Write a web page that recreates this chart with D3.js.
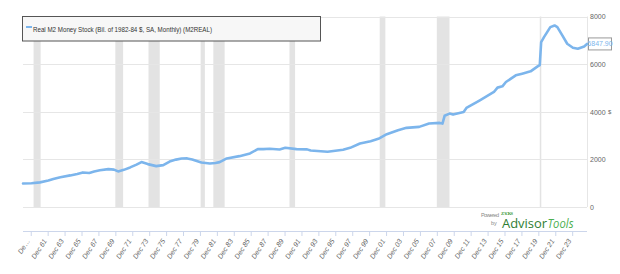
<!DOCTYPE html>
<html><head><meta charset="utf-8">
<script src="https://cdn.jsdelivr.net/npm/d3@7/dist/d3.min.js"></script>
<style>
html,body{margin:0;padding:0;background:#fff;}
svg{display:block;font-family:"Liberation Sans Narrow","Arial Narrow","Liberation Sans",sans-serif;}
</style></head>
<body><svg id="chart" width="620" height="274"></svg>
<script>
const seriesName = "Real M2 Money Stock (Bil. of 1982-84 $, SA, Monthly) (M2REAL)";
const dates = ["1959-01","1960-01","1961-01","1962-01","1962-08","1963-06","1964-08","1965-06","1966-02","1966-11","1967-06","1968-02","1969-02","1969-10","1970-04","1970-12","1971-09","1972-06","1973-01","1973-10","1974-10","1975-08","1976-05","1977-02","1977-10","1978-06","1979-01","1980-02","1981-02","1981-10","1982-04","1983-02","1984-08","1985-11","1986-10","1987-06","1988-03","1989-05","1990-01","1991-05","1992-08","1993-01","1995-01","1996-11","1997-09","1998-11","2000-02","2001-01","2002-01","2003-05","2004-05","2005-11","2007-01","2008-04","2008-08","2008-11","2009-06","2009-11","2011-02","2011-06","2013-01","2014-09","2015-02","2015-09","2016-02","2017-04","2018-01","2019-01","2019-11","2020-02","2020-04","2020-08","2021-05","2021-11","2022-03","2022-10","2023-05","2024-01","2024-08","2025-05","2025-09"];
const values = [990,1000,1035,1110,1173,1250,1327,1390,1452,1430,1490,1540,1592,1570,1494,1560,1662,1780,1885,1801,1717,1760,1910,1990,2039,2040,1998,1872,1829,1850,1885,2039,2136,2248,2429,2430,2443,2415,2485,2429,2420,2370,2318,2402,2485,2667,2764,2862,3058,3225,3323,3365,3504,3532,3504,3830,3923,3881,3993,4160,4482,4831,5013,5068,5250,5529,5599,5696,5906,5960,6925,7134,7553,7623,7553,7204,6856,6689,6647,6743,6848];
const lastValueLabel = "6847.90";
const recessionStarts = ["1960-04","1969-12","1973-11","1980-01","1981-07","1990-07","2001-03","2007-12","2020-02"];
const recessionEnds   = ["1961-02","1970-11","1975-03","1980-07","1982-11","1991-03","2001-11","2009-06","2020-04"];
const yTicks = [0,2000,4000,6000,8000];
const xTickYears = d3.range(1959, 2024, 2);
const yAxisTitle = "$";

const parse = d3.timeParse("%Y-%m");
const data = dates.map((d,i)=>({date:parse(d), value:values[i]}));

const svg = d3.select("#chart");
const L = 23, R = 587, T = 16.5, B = 207;
const x = d3.scaleTime().domain([parse("1959-01"), parse("2025-09")]).range([L, R]);
const y = d3.scaleLinear().domain([0, 8000]).range([B, T]);

// recession bands
svg.append("g").selectAll("rect").data(recessionStarts).join("rect")
  .attr("x", (d)=>x(parse(d)))
  .attr("width", (d,i)=>Math.max(1.5, x(parse(recessionEnds[i])) - x(parse(d))))
  .attr("y", T).attr("height", B - T)
  .attr("fill", "#e3e3e3");

// gridlines
svg.append("g").selectAll("line").data(yTicks).join("line")
  .attr("x1", L).attr("x2", R)
  .attr("y1", d=>Math.round(y(d))+0.5).attr("y2", d=>Math.round(y(d))+0.5)
  .attr("stroke", "#e6e6e6").attr("stroke-width", 1);
svg.append("line").attr("x1", R+0.5).attr("x2", R+0.5).attr("y1", T).attr("y2", B)
  .attr("stroke", "#e6e6e6");

// right y-axis labels
const yAxis = d3.axisRight(y).tickValues(yTicks).tickSize(0).tickPadding(3).tickFormat(d3.format("d"));
const gy = svg.append("g").attr("transform", `translate(${R},0)`).call(yAxis);
gy.select(".domain").remove();
gy.selectAll("text").attr("fill", "#666").attr("font-size", "7px");
svg.append("text").attr("x", 608).attr("y", y(4000)+2.5).attr("font-size", "6px").attr("fill", "#666").text(yAxisTitle);

// x-axis at bottom
const axisY = 231;
const xAxis = d3.axisBottom(x).tickValues(xTickYears.map(yr=>parse(yr+"-12"))).tickSize(5)
  .tickFormat((d,i)=> i===0 ? "De…" : "Dec " + d3.timeFormat("%y")(d));
const gx = svg.append("g").attr("transform", `translate(0,${axisY})`).call(xAxis);
gx.select(".domain").attr("d", `M${L},0.5H${R}`).attr("stroke", "#ccd6eb");
gx.selectAll(".tick line").attr("stroke", "#ccd6eb");
gx.selectAll(".tick text")
  .attr("fill", "#666").attr("font-size", "7px").attr("font-style", "italic")
  .attr("text-anchor", "end").attr("dy", null).attr("y", 0)
  .attr("transform", "translate(-1,10) rotate(-57)");

// line
svg.append("path").datum(data)
  .attr("fill", "none").attr("stroke", "#7cb5ec").attr("stroke-width", 2.6)
  .attr("stroke-linejoin", "round").attr("stroke-linecap", "round")
  .attr("d", d3.line().x(d=>x(d.date)).y(d=>y(d.value)));

// last value label
const lv = data[data.length-1];
const ly = y(lv.value);
svg.append("rect").attr("x", 588.5).attr("y", ly-6).attr("width", 23).attr("height", 12)
  .attr("fill", "#fff").attr("stroke", "#999").attr("stroke-width", 1);
svg.append("text").attr("x", 600).attr("y", ly+2.5).attr("text-anchor", "middle")
  .attr("font-size", "7px").attr("fill", "#7cb5ec").text(lastValueLabel);

// legend box
svg.append("rect").attr("x", 22.5).attr("y", 16.5).attr("width", 298).attr("height", 24.5)
  .attr("fill", "#f7f7f7").attr("stroke", "#555").attr("stroke-width", 1);
svg.append("line").attr("x1", 26).attr("x2", 32).attr("y1", 27).attr("y2", 27)
  .attr("stroke", "#7cb5ec").attr("stroke-width", 2);
svg.append("text").attr("x", 33).attr("y", 31.5).attr("font-size", "8px").attr("fill", "#333")
  .attr("textLength", 179).attr("lengthAdjust", "spacingAndGlyphs").text(seriesName);

// Powered by Zacks AdvisorTools
const logo = svg.append("g");
logo.append("text").attr("x", 481).attr("y", 216.5).attr("font-size", "5.5px").attr("fill", "#888")
  .attr("font-family", "Liberation Sans, sans-serif").attr("textLength", 18).text("Powered");
logo.append("text").attr("x", 501).attr("y", 214.5).attr("font-size", "4.5px").attr("font-weight", "bold")
  .attr("fill", "#3c9b3c").attr("font-family", "Liberation Serif, serif").attr("textLength", 12).text("ZACKS");
logo.append("text").attr("x", 491).attr("y", 225).attr("font-size", "5.5px").attr("fill", "#888")
  .attr("font-family", "Liberation Sans, sans-serif").text("by");
logo.append("text").attr("x", 502).attr("y", 228).attr("font-size", "13px")
  .attr("font-family", "Open Sans, Liberation Sans, sans-serif").attr("fill", "#2e7d32")
  .attr("textLength", 45).attr("lengthAdjust", "spacingAndGlyphs").text("Advisor");
logo.append("text").attr("x", 547.5).attr("y", 228).attr("font-size", "13px").attr("font-style", "italic")
  .attr("font-family", "Open Sans, Liberation Sans, sans-serif").attr("fill", "#4caf50")
  .attr("textLength", 26).attr("lengthAdjust", "spacingAndGlyphs").text("Tools");
</script></body></html>
